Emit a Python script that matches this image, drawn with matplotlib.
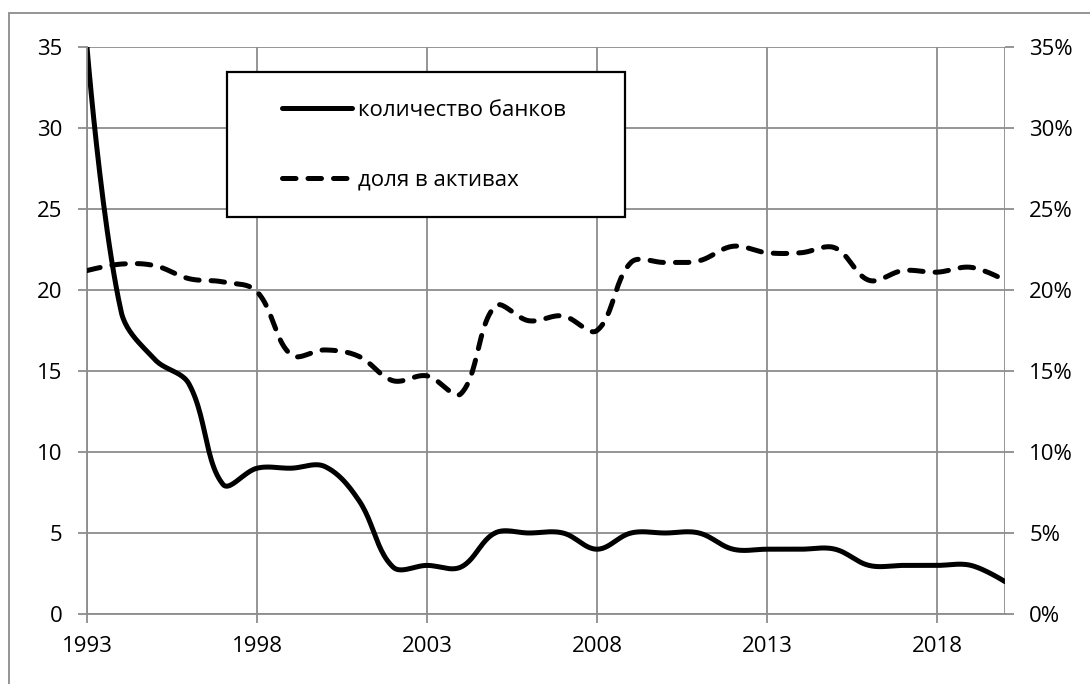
import numpy as np
import matplotlib
matplotlib.use("Agg")
import matplotlib.pyplot as plt
from matplotlib.patches import Rectangle
from matplotlib.ticker import FuncFormatter

plt.rcParams['font.family'] = ['Open Sans', 'DejaVu Sans']

years = list(range(1993, 2021))
banks = [35, 18.7, 15.7, 14.2, 8, 9, 9, 9.1, 7, 2.9, 3, 2.9, 5, 5, 5, 4, 5, 5, 5, 4, 4, 4, 4, 3, 3, 3, 3, 2]
share = [21.2, 21.6, 21.5, 20.7, 20.5, 19.9, 16.0, 16.3, 15.9, 14.4, 14.7, 13.6, 19.0, 18.1,
         18.4, 17.5, 21.7, 21.7, 21.8, 22.7, 22.3, 22.3, 22.6, 20.6, 21.2, 21.1, 21.4, 20.6]
label_banks = "количество банков"
label_share = "доля в активах"


def smooth(x, y, sx=34.1, sy=16.2, t=0.36, n=24):
    # bezier smoothing, arms scaled by neighbouring segment lengths (pixel space)
    x = np.asarray(x, float)
    y = np.asarray(y, float)
    P = np.column_stack([x * sx, y * sy])
    m = len(P)
    left = P.copy()
    right = P.copy()
    for i in range(1, m - 1):
        d01 = np.hypot(*(P[i] - P[i - 1]))
        d12 = np.hypot(*(P[i + 1] - P[i]))
        tan = P[i + 1] - P[i - 1]
        left[i] = P[i] - tan * t * d01 / (d01 + d12)
        right[i] = P[i] + tan * t * d12 / (d01 + d12)
    s = np.linspace(0, 1, n, endpoint=False)[:, None]
    pts = []
    for i in range(m - 1):
        p1, c1, c2, p2 = P[i], right[i], left[i + 1], P[i + 1]
        pts.append((1 - s) ** 3 * p1 + 3 * (1 - s) ** 2 * s * c1 + 3 * (1 - s) * s ** 2 * c2 + s ** 3 * p2)
    pts.append(P[-1:])
    pts = np.vstack(pts)
    return pts[:, 0] / sx, pts[:, 1] / sy


fig = plt.figure(figsize=(10.9, 6.84), dpi=100)
ax = fig.add_axes([87 / 1090, 1 - 614 / 684, (1005 - 87) / 1090, (614 - 47) / 684])
ax2 = ax.twinx()

grey = "#8c8c8c"
ax.set_xlim(years[0], years[-1])
ax.set_ylim(0, 35)
ax2.set_ylim(0, 35)
ax.set_xticks(range(1993, 2019, 5))
ax.set_yticks(range(0, 36, 5))
ax2.set_yticks(range(0, 36, 5))
ax2.yaxis.set_major_formatter(FuncFormatter(lambda v, p: f"{v:.0f}%"))
ax.grid(True, color=grey, linewidth=1.3)
ax.axvline(years[-1], color=grey, linewidth=1.3)

for a in (ax, ax2):
    for s in a.spines.values():
        s.set_visible(False)
    a.tick_params(colors=grey, labelcolor="black", labelsize=16, length=6.5, width=1.3)
ax.spines['left'].set_visible(True)
ax.spines['bottom'].set_visible(True)
ax.spines['left'].set_color(grey)
ax.spines['bottom'].set_color(grey)
ax.spines['left'].set_linewidth(1.3)
ax.spines['bottom'].set_linewidth(1.3)
ax.tick_params(axis='x', pad=9)
ax.tick_params(axis='y', pad=11)
ax2.tick_params(axis='y', pad=11)

bx, by = smooth(years, banks)
sx, sy = smooth(years, share)
l1, = ax.plot(bx, by, color="black", linewidth=3.6, solid_capstyle="round", label=label_banks)
l2, = ax2.plot(sx, sy, color="black", linewidth=3.6, dashes=(2.7, 2.4), dash_capstyle="round",
               label=label_share)

# legend box
fig.patches.append(Rectangle((227 / 1090, 1 - 217 / 684), (625 - 227) / 1090, (217 - 72) / 684,
                             transform=fig.transFigure, fill=True, facecolor="white",
                             edgecolor="black", linewidth=1.6, zorder=5))
leg = fig.legend([l1, l2], [label_banks, label_share], loc="upper left",
                 bbox_to_anchor=(282 / 1090, 1 - 100 / 684), frameon=False, fontsize=16,
                 handlelength=3.15, handletextpad=0.27, labelspacing=2.2, borderpad=0,
                 borderaxespad=0)
leg.set_zorder(6)

# outer chart border
fig.patches.append(Rectangle((9 / 1090, -0.1), 1.2, 1 - 12.7 / 684 + 0.1,
                             transform=fig.transFigure, fill=False, edgecolor=grey,
                             linewidth=1.3))

fig.savefig("out.png", dpi=100)
